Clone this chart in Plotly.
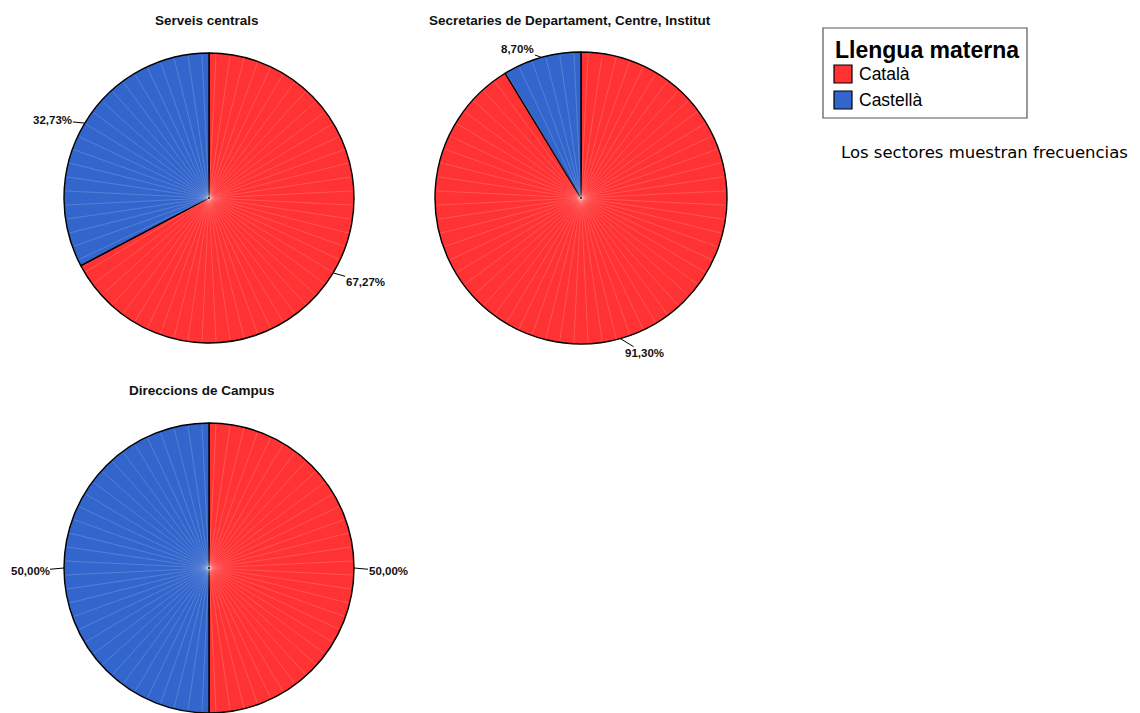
import math
import plotly.graph_objects as go

# ---- data ----
categories = ["Català", "Castellà"]
panel_titles = ["Serveis centrals",
                "Secretaries de Departament, Centre, Institut",
                "Direccions de Campus"]
serveis_centrals = [37, 18]      # 67,27% / 32,73%
secretaries = [21, 2]            # 91,30% / 8,70%
direccions_campus = [2, 2]       # 50,00% / 50,00%
legend_title = "Llengua materna"
note_text = "Los sectores muestran frecuencias"

colors = ["#FF3333", "#3366CC"]

W, H = 1140, 713
OFF = 8  # page body offset
FONT = "Liberation Sans, Arial, sans-serif"

# pie layout in pixels: (center x, center y, radius, title center x, title y)
panels = [
    (209, 198, 145, 207, 20),
    (581, 198, 146, 570, 20),
    (209, 568, 145, 202, 391),
]
series = [serveis_centrals, secretaries, direccions_campus]

def px2paper(x, y):
    return (x - OFF) / W, 1 - (y - OFF) / H

fig = go.Figure()
annotations = []
shapes = []

N_RAYS = 64
for (cx, cy, r, tx, ty), vals, title in zip(panels, series, panel_titles):
    x0, y1 = px2paper(cx - r, cy - r)
    x1, y0 = px2paper(cx + r, cy + r)
    fig.add_trace(go.Pie(
        labels=categories, values=vals, sort=False, direction="clockwise",
        rotation=0, textinfo="none", showlegend=False, hoverinfo="label+percent",
        marker=dict(colors=colors, line=dict(color="black", width=1.4)),
        domain=dict(x=[x0, x1], y=[y0, y1]),
    ))
    # faint radial shading texture (decorative)
    path = ""
    for k in range(N_RAYS):
        a = 2 * math.pi * (k + 0.5) / N_RAYS
        sx, sy = px2paper(cx + 1 * math.sin(a), cy - 1 * math.cos(a))
        ex, ey = px2paper(cx + (r - 1.5) * math.sin(a), cy - (r - 1.5) * math.cos(a))
        path += f"M{sx},{sy} L{ex},{ey} "
    shapes.append(dict(type="path", xref="paper", yref="paper", path=path,
                       line=dict(color="rgba(255,255,255,0.28)", width=0.6),
                       layer="above"))
    # title
    tpx, tpy = px2paper(tx, ty)
    annotations.append(dict(x=tpx, y=tpy, xref="paper", yref="paper",
                            text=f"<b>{title}</b>", showarrow=False,
                            font=dict(family=FONT, size=13.5, color="#111"),
                            xanchor="center", yanchor="middle"))
    # percentage labels with leader lines
    total = sum(vals)
    cum = 0
    for v in vals:
        frac = v / total
        mid = (cum + frac / 2) * 2 * math.pi
        cum += frac
        dx, dy = math.sin(mid), -math.cos(mid)
        px, py = cx + r * dx, cy + r * dy
        sgn = 1 if dx >= 0 else -1
        ox = dx * 14 + sgn * 20
        oy = dy * 12 + 3
        ppx, ppy = px2paper(px, py)
        label = f"{frac * 100:.2f}%".replace(".", ",")
        annotations.append(dict(x=ppx, y=ppy, xref="paper", yref="paper",
                                ax=ox, ay=oy, text=f"<b>{label}</b>",
                                showarrow=True, arrowhead=0, arrowwidth=1,
                                arrowcolor="black", standoff=0, borderpad=0,
                                font=dict(family=FONT, size=11.5, color="#111")))

# ---- legend box (drawn manually to match swatch size) ----
lx0, ly0 = px2paper(823, 28)
lx1, ly1 = px2paper(1027, 118)
shapes.append(dict(type="rect", xref="paper", yref="paper", x0=lx0, y0=ly1,
                   x1=lx1, y1=ly0, line=dict(color="#555", width=1.2),
                   fillcolor="white", layer="below"))
ax_, ay_ = px2paper(833, 50)
annotations.append(dict(x=ax_, y=ay_, xref="paper", yref="paper",
                        text=f"<b>{legend_title}</b>", showarrow=False,
                        xanchor="left", yanchor="middle",
                        font=dict(family=FONT, size=23, color="black")))
for i, (cat, col) in enumerate(zip(categories, colors)):
    sy = 65 + i * 26
    sx0, sy0 = px2paper(834, sy)
    sx1, sy1 = px2paper(852, sy + 18)
    shapes.append(dict(type="rect", xref="paper", yref="paper", x0=sx0, y0=sy1,
                       x1=sx1, y1=sy0, fillcolor=col,
                       line=dict(color="black", width=1.2)))
    tx_, ty_ = px2paper(857, sy + 9)
    annotations.append(dict(x=tx_, y=ty_, xref="paper", yref="paper",
                            text=cat, showarrow=False, xanchor="left",
                            yanchor="middle",
                            font=dict(family=FONT, size=17.5, color="black")))

nx, ny = px2paper(984, 152)
annotations.append(dict(x=nx, y=ny, xref="paper", yref="paper", text=note_text,
                        showarrow=False, xanchor="center", yanchor="middle",
                        font=dict(family="DejaVu Sans, sans-serif", size=16.5,
                                  color="black")))

fig.update_layout(
    width=W, height=H, margin=dict(l=0, r=0, t=0, b=0),
    paper_bgcolor="white", plot_bgcolor="white",
    annotations=annotations, shapes=shapes, showlegend=False,
    separators=",.",
    font=dict(family=FONT),
)

fig.write_html("out.html")
